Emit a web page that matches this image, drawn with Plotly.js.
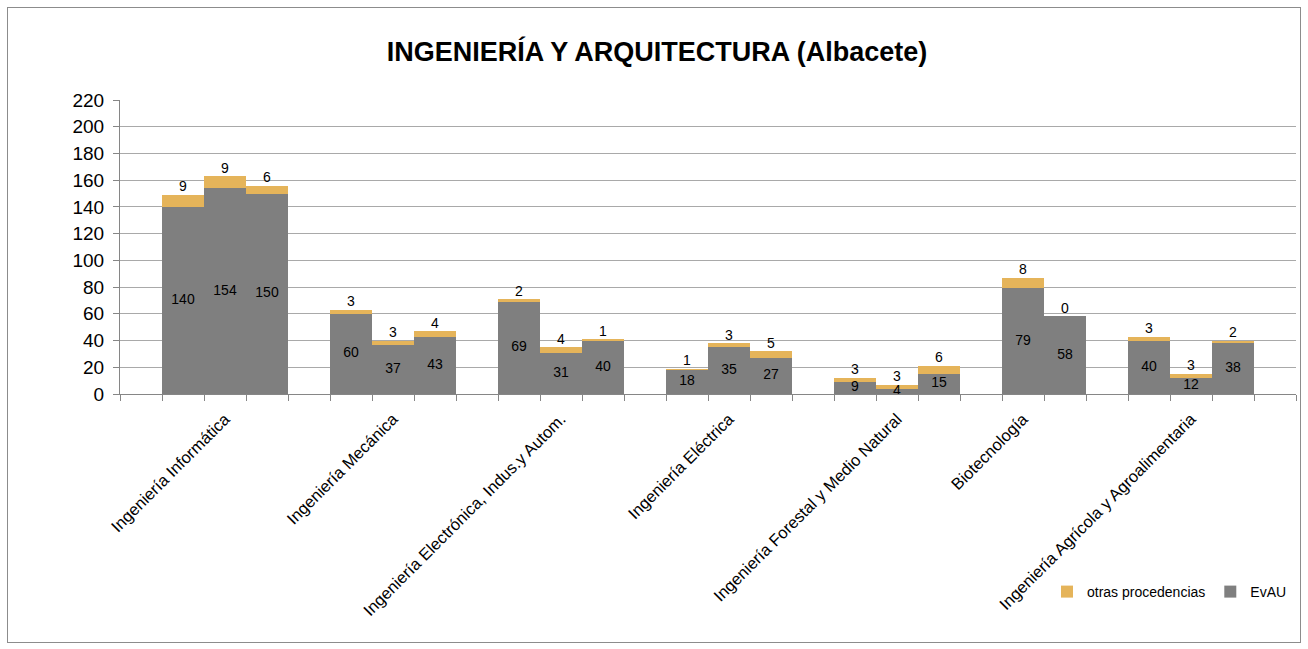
<!DOCTYPE html>
<html>
<head>
<meta charset="utf-8">
<script src="https://cdn.plot.ly/plotly-3.0.1.min.js"></script>
<style>
  html, body { margin: 0; padding: 0; background: #fff; }
  #wrap { position: relative; width: 1308px; height: 649px; }
  #chart { position: absolute; left: 0; top: 0; width: 1308px; height: 649px; }
  #frame { position: absolute; left: 7px; top: 7px; width: 1292px; height: 634px; border: 1px solid #8c8c8c; pointer-events: none; }
</style>
</head>
<body>
<div id="wrap"><div id="chart"></div><div id="frame"></div></div>
<script>
// ---- data ----
const categories = [
  'Ingeniería Informática',
  'Ingeniería Mecánica',
  'Ingeniería Electrónica, Indus.y Autom.',
  'Ingeniería Eléctrica',
  'Ingeniería Forestal y Medio Natural',
  'Biotecnología',
  'Ingeniería Agrícola y Agroalimentaria'
];
const evauByCategory = [
  [140, 154, 150],
  [60, 37, 43],
  [69, 31, 40],
  [18, 35, 27],
  [9, 4, 15],
  [79, 58],
  [40, 12, 38]
];
const otrasByCategory = [
  [9, 9, 6],
  [3, 3, 4],
  [2, 4, 1],
  [1, 3, 5],
  [3, 3, 6],
  [8, 0],
  [3, 3, 2]
];
const seriesNames = ['EvAU', 'otras procedencias'];
const yTicks = [0, 20, 40, 60, 80, 100, 120, 140, 160, 180, 200, 220];

// ---- build slot positions (one empty slot before each group, one at the end) ----
const xs = [], evau = [], otras = [], tickPos = [];
let slot = 0;
categories.forEach((c, g) => {
  slot++; // gap slot
  const n = evauByCategory[g].length;
  evauByCategory[g].forEach((v, i) => {
    if (i === Math.floor((n - 1) / 2)) tickPos.push(slot);
    xs.push(slot);
    evau.push(v);
    otras.push(otrasByCategory[g][i]);
    slot++;
  });
});
const lastSlot = slot; // trailing empty slot index

const totals = evau.map((v, i) => v + otras[i]);
const mids = evau.map(v => v / 2);

const FONT = 'Liberation Sans, Arial, sans-serif';
const GRAY = '#7f7f7f';
const GOLD = '#e5b45a';
const AXIS = '#868686';

const traces = [
  { type: 'bar', name: seriesNames[0], x: xs, y: evau, width: 1,
    marker: { color: GRAY, line: { width: 0 } }, hoverinfo: 'skip' },
  { type: 'bar', name: seriesNames[1], x: xs, y: otras, width: 1,
    marker: { color: GOLD, line: { width: 0 } }, hoverinfo: 'skip' },
  { type: 'scatter', mode: 'text', x: xs, y: mids, text: evau.map(String),
    textposition: 'middle center', textfont: { family: FONT, size: 14, color: '#000' },
    showlegend: false, hoverinfo: 'skip', cliponaxis: false },
  { type: 'scatter', mode: 'text', x: xs, y: totals, text: otras.map(String),
    textposition: 'top center', textfont: { family: FONT, size: 14, color: '#000' },
    showlegend: false, hoverinfo: 'skip', cliponaxis: false }
];

const layout = {
  width: 1308, height: 649,
  paper_bgcolor: '#fff', plot_bgcolor: '#fff',
  margin: { l: 120, r: 12, t: 100, b: 255 },
  barmode: 'stack', bargap: 0,
  font: { family: FONT, color: '#000' },
  title: { text: '<b>INGENIERÍA Y ARQUITECTURA (Albacete)</b>',
    font: { family: FONT, size: 27, color: '#000' },
    x: 657 / 1308, xref: 'container', xanchor: 'center',
    y: 1 - 52 / 649, yref: 'container', yanchor: 'middle' },
  xaxis: {
    range: [-0.5, lastSlot + 0.5],
    tickmode: 'array', tickvals: tickPos, ticktext: categories,
    tickangle: -45, ticks: '', tickfont: { family: FONT, size: 16.5, color: '#000' },
    ticklabelstandoff: 8,
    showline: true, linecolor: AXIS, linewidth: 1,
    showgrid: false, zeroline: false, fixedrange: true,
    minor: { tickmode: 'linear', tick0: -0.5, dtick: 1, ticks: 'outside',
      ticklen: 6, tickcolor: AXIS, tickwidth: 1, showgrid: false }
  },
  yaxis: {
    range: [0, 220], tickmode: 'array', tickvals: yTicks,
    ticks: 'outside', ticklen: 6, tickcolor: AXIS, tickwidth: 1,
    tickfont: { family: FONT, size: 19, color: '#000' },
    showline: true, linecolor: AXIS, linewidth: 1,
    showgrid: true, gridcolor: '#a9a9a9', gridwidth: 1,
    zeroline: false, fixedrange: true, ticklabelstandoff: 5
  },
  legend: {
    orientation: 'h', traceorder: 'reversed',
    x: (1292 - 120) / 1176, xanchor: 'right',
    y: (394 - 592) / 294, yanchor: 'middle',
    font: { family: FONT, size: 14, color: '#000' },
    bgcolor: 'rgba(0,0,0,0)', itemwidth: 30
  },
  showlegend: true
};

Plotly.newPlot('chart', traces, layout, { displayModeBar: false, staticPlot: true });
</script>
</body>
</html>
